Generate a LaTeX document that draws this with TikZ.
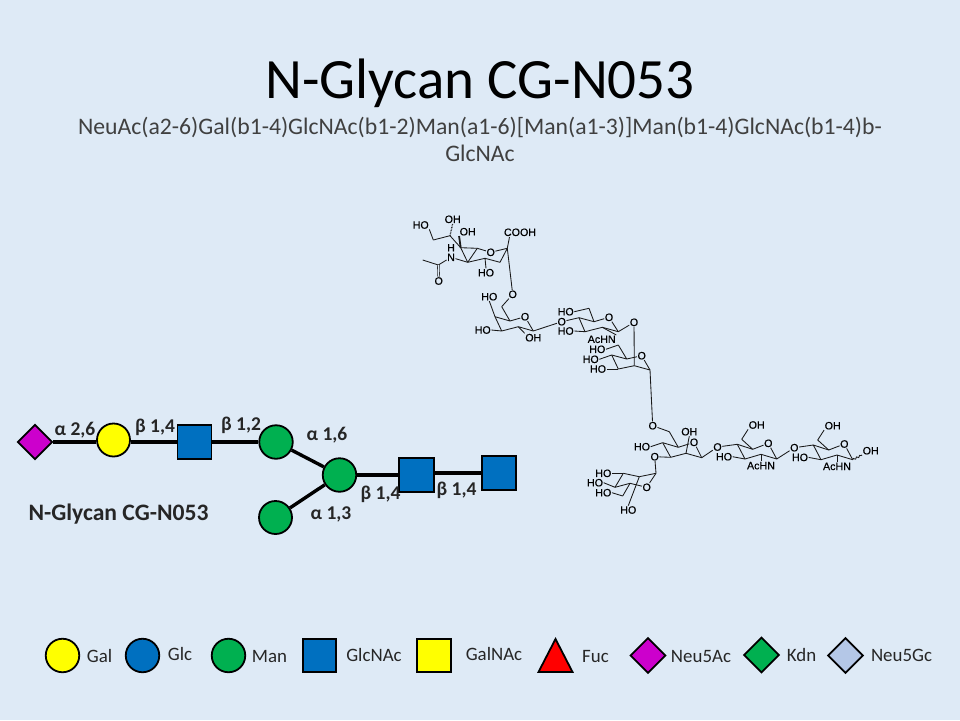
\documentclass[tikz,border=0pt]{standalone}
\usepackage{fontspec}
\setmainfont{Carlito}
\newfontfamily\atomfont[FakeBold=0.4]{Liberation Sans}
\usetikzlibrary{shapes.geometric,decorations.pathmorphing}
\definecolor{slidebg}{HTML}{DEEAF6}
\definecolor{glyblue}{HTML}{0070C0}
\definecolor{glygreen}{HTML}{00B050}
\definecolor{glyyellow}{HTML}{FFFF00}
\definecolor{glypurple}{HTML}{CC00CC}
\definecolor{glylav}{HTML}{B4C7E7}
\definecolor{subgrey}{HTML}{404040}
\tikzset{
  sugar/.style={draw=black, line width=1.8pt, inner sep=0pt},
  circ/.style={sugar, circle, minimum size=#1},
  sq/.style={sugar, rectangle, minimum size=#1},
  dia/.style={sugar, diamond, minimum size=#1},
  linkage/.style={line width=3.4pt},
  linkthick/.style={line width=4.6pt},
  bondlabel/.style={font=\fontsize{19.5}{20}\selectfont\bfseries, text=black!85, inner sep=0pt},
  legendlabel/.style={font=\fontsize{18.9}{20}\selectfont, text=black!85, inner sep=0pt},
  atom/.style={font=\atomfont\fontsize{10.7}{11}\selectfont, inner sep=0.4pt},
  bond/.style={line width=0.85pt, black!90},
  dblbond/.style={bond, double=slidebg, double distance=1.2pt, line width=0.6pt}
}
\begin{document}
\begin{tikzpicture}[x=1pt, y=-1pt]
  \fill[slidebg] (0, 0) rectangle (960, 720);
  \useasboundingbox (0, 0) rectangle (960, 720);

  % title
  \node[inner sep=0pt] (title) at (480, 83) {\fontsize{57}{57}\selectfont N-Glycan CG-N053};
  \node[inner sep=0pt, align=center, text=subgrey, font=\fontsize{23.7}{26.5}\selectfont] (subtitle) at (480, 139.5)
    {NeuAc(a2-6)Gal(b1-4)GlcNAc(b1-2)Man(a1-6)[Man(a1-3)]Man(b1-4)GlcNAc(b1-4)b-\\GlcNAc};

  % glycan
  \node[dia=35, fill=glypurple] (neu) at (35, 442) {};
  \node[circ=33, fill=glyyellow] (gal) at (113.5, 440) {};
  \node[sq=34, fill=glyblue] (nag1) at (194.5, 442) {};
  \node[circ=33.5, fill=glygreen] (man1) at (276, 442) {};
  \node[circ=33.5, fill=glygreen] (man2) at (339.5, 475) {};
  \node[circ=33, fill=glygreen] (man3) at (275.5, 517.5) {};
  \node[sq=34.5, fill=glyblue] (nag2) at (416.5, 475) {};
  \node[sq=34.5, fill=glyblue] (nag3) at (499, 473) {};
  \draw[linkage] (neu) -- (neu -| gal.west);
  \draw[linkage] (nag1 -| gal.east) -- (nag1);
  \draw[linkage] (nag1) -- (man1);
  \draw[linkage] (man1) -- (man2);
  \draw[linkage] (man3) -- (man2);
  \draw[linkthick] (man2) -- (nag2);
  \draw[linkage] (nag2.east |- nag3) -- (nag3);

  \node[bondlabel] (l1) at (75, 430) {α 2,6};
  \node[bondlabel] (l2) at (155, 427.5) {β 1,4};
  \node[bondlabel] (l3) at (241, 425) {β 1,2};
  \node[bondlabel] (l4) at (327, 435) {α 1,6};
  \node[bondlabel] (l5) at (380.5, 494.5) {β 1,4};
  \node[bondlabel] (l6) at (456.5, 490) {β 1,4};
  \node[bondlabel] (l7) at (331, 514.5) {α 1,3};
  \node[inner sep=0pt, font=\fontsize{23.6}{24}\selectfont\bfseries, text=black!85] (name) at (118.5, 514) {N-Glycan CG-N053};

  % legend
  \node[circ=33.5, fill=glyyellow] (kgal) at (62.5, 655.5) {};
  \node[legendlabel] (tgal) at (99.5, 656) {Gal};
  \node[circ=33.5, fill=glyblue] (kglc) at (142.5, 655.5) {};
  \node[legendlabel] (tglc) at (180, 654) {Glc};
  \node[circ=33.5, fill=glygreen] (kman) at (228.5, 655.5) {};
  \node[legendlabel] (tman) at (269.5, 656) {Man};
  \node[sq=33.5, fill=glyblue] (knag) at (319.5, 655.5) {};
  \node[legendlabel] (tnag) at (374, 655) {GlcNAc};
  \node[sq=33.5, fill=glyyellow] (kgan) at (434, 655.5) {};
  \node[legendlabel] (tgan) at (494, 653.5) {GalNAc};
  \coordinate (fa) at (555.5, 639);
  \coordinate (fb) at (538.5, 672);
  \coordinate (fc) at (572.5, 672);
  \draw[sugar, fill=red] (fa) -- (fb) -- (fc) -- cycle;
  \node[legendlabel] (tfuc) at (595.5, 656) {Fuc};
  \node[dia=35.5, fill=glypurple] (kac) at (648, 655.5) {};
  \node[legendlabel] (tac) at (701, 656) {Neu5Ac};
  \node[dia=35.5, fill=glygreen] (kkdn) at (761.5, 655) {};
  \node[legendlabel] (tkdn) at (801.5, 655) {Kdn};
  \node[dia=35.5, fill=glylav] (kgc) at (845.5, 655.5) {};
  \node[legendlabel] (tgc) at (901.5, 655) {Neu5Gc};

  % skeleton carbons
  \foreach \c/\x/\y in {sa/433.3/240, sb/450/235.7, sc/460.7/247.7, sd/477.3/248.3, se/467.7/262.3,
      sf/485/258.3, sg/500/262.3, sh/507.3/248.3, si/438.3/265, sj/422.7/260, sk/509.5/237,
      ga/501.7/306.7, gb/510/321, gc/495/316.7, gd/501.7/331, ge/518.3/326.7, gf/533.3/331,
      na/589/308.3, nb/594/321.7, nc/579/317.7, nd/585/331.7, ne/602.3/327.3, nf/618.3/331.7,
      ma/618.3/345, mb/626.7/359, mc/611.7/355, md/618.3/369, me/634.3/365.7, mf/650/370,
      ca/669.3/431.7, cb/678.3/447.3, cc/662.7/442.7, cd/670.7/457.3, ce/686/453.3, cf/701.7/457.7,
      la/623.3/473.3, lb/639.3/476.7, lc/656/473.3, ld/615/487.3, le/630/483.3, lf/622.7/496}
    \coordinate (\c) at (\x, \y);

  % atom labels
  \foreach \a/\x/\y/\t in {sho9/420.7/225/HO, soh8/452.7/219.3/OH, soh7/467.7/231.7/OH, scooh/520/232.3/COOH,
      shh/451/247.7/H, snn/451/257.3/N, soo/490.7/252.3/O, sho4/486/272.7/HO, sco/438.7/281/O, oa/512.7/294.3/O,
      gho4/489.3/296.7/HO, goo/525/316.7/O, gho3/482.7/330/HO, goh2/533.3/337.7/OH, ob/561.7/321.7/O,
      nho6/565.7/311.7/HO, noo/609/317.3/O, nho3/565.7/331/HO, nach/601.7/339.3/AcHN, oc/634/322.3/O,
      mho6/597.3/349.3/HO, mho4/590.7/359.3/HO, mho3/598/369/HO, moo/641.7/355.7/O, od/652.7/425.7/O,
      cho/642/446.7/HO, coh/689.3/431.7/OH, coo/694/442.3/O, oe/654.7/456.7/O, of/717.5/447/O, og/794.3/447.7/O,
      lho6/603.3/473.3/HO, lho/595/482.7/HO, lho3/603.3/492.7/HO, loo/646.7/487.3/O, lho2/628.3/510/HO}
    \node[atom] (\a) at (\x, \y) {\t};

  % bonds of the upper chain
  \foreach \a/\b in {sho9.south east/sa, sa/sb, sb/sc, sc/sd, sd/soo, soo/sh, sh/sg, sg/sf, sf/se, se/sd, se/snn,
      sc/se, sf/sho4.north, sh/sk, sh/oa, si/snn, si/sj,
      oa/ga, ga/gb, gb/gc, gc/gho4.south, gc/gd, gd/gho3.east, gd/ge, ge/gf, ge/goh2.north west, gf/goo, goo/gb, gf/ob,
      nho6.east/na, na/nb, nb/nc, nc/ob, nc/nd, nd/nho3.east, nd/ne, ne/nf, ne/nach.north east, nf/noo, noo/nb, nf/oc,
      mho6.east/ma, ma/mb, mb/mc, mc/mho4.east, mc/md, md/mho3.east, md/me, me/mf, mf/moo, moo/mb, me/oc, mf/od,
      od/ca, ca/cb, cb/cc, cc/cho.east, cc/cd, cd/oe, cd/ce, ce/cf, ce/coh.south, cf/coo, coo/cb, cf/of,
      oe/lc, lho6.east/la, la/lb, lb/lc, lc/loo, loo/le, la/ld, ld/lho.east, ld/le, le/lf, lf/lho3.east, lb/lho2.north}
    \draw[bond] (\a) -- (\b);
  \draw[bond, dash pattern=on 0.8pt off 0.8pt, line width=1.2pt] (sb) -- (soh8.south);
  \draw[bond, line width=1.8pt] (sc) -- (soh7.south west);
  \draw[dblbond] (si) -- (sco.north);

  % the two reducing-end rings
  \foreach \k/\dx/\dy/\oin in {p/0/0/of, q/76/0.7/og} {
    \begin{scope}[shift={(\dx, \dy)}]
      \coordinate (\k a) at (741.7, 439.3);
      \coordinate (\k b) at (752.7, 449.3);
      \coordinate (\k c) at (737.3, 444.3);
      \coordinate (\k d) at (745, 459);
      \coordinate (\k e) at (761, 454.3);
      \coordinate (\k f) at (776.7, 459);
      \node[atom] (\k oh) at (756.7, 425) {OH};
      \node[atom] (\k oo) at (768.3, 443.3) {O};
      \node[atom] (\k ho) at (724, 456.7) {HO};
      \node[atom] (\k ac) at (761, 465.7) {AcHN};
      \draw[bond] (\k a) -- (\k oh.south west);
      \draw[bond] (\k a) -- (\k b);
      \draw[bond] (\k b) -- (\k c);
      \draw[bond] (\k c) -- (\oin);
      \draw[bond] (\k c) -- (\k d);
      \draw[bond] (\k d) -- (\k ho.east);
      \draw[bond] (\k d) -- (\k e);
      \draw[bond] (\k e) -- (\k ac.north);
      \draw[bond] (\k e) -- (\k f);
      \draw[bond] (\k f) -- (\k oo);
      \draw[bond] (\k oo) -- (\k b);
    \end{scope}
  }
  \draw[bond] (pf) -- (og);
  \node[atom] (qend) at (870.7, 450.7) {OH};
  \draw[bond, decorate, decoration={snake, amplitude=0.8pt, segment length=3.5pt}] (qf) -- (qend);
\end{tikzpicture}
\end{document}
